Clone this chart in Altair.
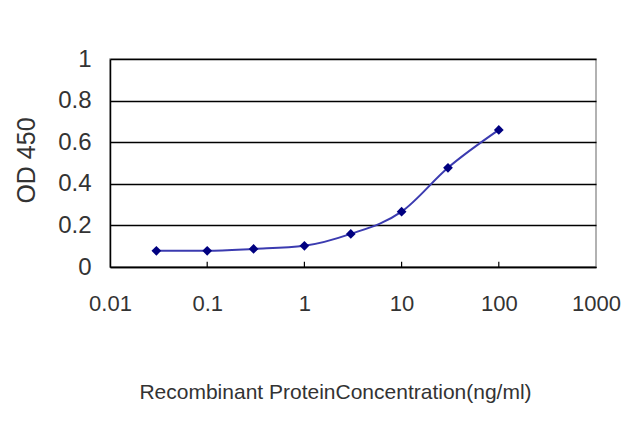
import altair as alt
import pandas as pd

conc = [0.03, 0.1, 0.3, 1, 3, 10, 30, 100]
od = [0.078, 0.078, 0.087, 0.102, 0.159, 0.266, 0.477, 0.659]
x_ticks = [0.01, 0.1, 1, 10, 100, 1000]
y_ticks = [0, 0.2, 0.4, 0.6, 0.8, 1]

df = pd.DataFrame({"conc": conc, "od": od})
ticks_df = pd.DataFrame({"t": x_ticks[1:-1], "y0": [0] * 4, "y1": [0.025] * 4})

FONT = "Liberation Sans"

xs = alt.Scale(type="log", domain=[0.01, 1000], nice=False)
ys = alt.Scale(domain=[0, 1], nice=False)

xaxis = alt.Axis(values=x_ticks, format="~g", grid=False, ticks=False,
                 labelFlush=False, labelOverlap=False, labelBound=False,
                 labelPadding=26, labelFontSize=22, labelFont=FONT, labelColor="#333",
                 domainColor="#000", domainWidth=1.5,
                 title="Recombinant ProteinConcentration(ng/ml)",
                 titleFont=FONT, titleFontSize=21, titleFontWeight="normal", titleColor="#333",
                 titleX=225, titleY=125, titleBaseline="middle", titleAlign="center")
yaxis = alt.Axis(values=y_ticks, format="~g", grid=True, gridColor="#000", gridWidth=1.5,
                 ticks=False, labelPadding=19, labelFontSize=24, labelFont=FONT,
                 labelFlush=False, labelOverlap=False,
                 labelColor="#333", domainColor="#000", domainWidth=1.5,
                 title="OD 450", titleFont=FONT, titleFontSize=25,
                 titleFontWeight="normal", titleColor="#333",
                 titleX=-84, titleY=101, titleAngle=-90, titleBaseline="middle",
                 titleAlign="center")

line = alt.Chart(df).mark_line(color="#3b3bb0", strokeWidth=2, interpolate="monotone").encode(
    x=alt.X("conc:Q", scale=xs, axis=xaxis),
    y=alt.Y("od:Q", scale=ys, axis=yaxis),
)
pts = alt.Chart(df).mark_point(shape="diamond", filled=True, color="#000080", size=95, opacity=1).encode(
    x=alt.X("conc:Q", scale=xs),
    y=alt.Y("od:Q", scale=ys),
)
tk = alt.Chart(ticks_df).mark_rule(color="#000", strokeWidth=1.2).encode(
    x=alt.X("t:Q", scale=xs),
    y=alt.Y("y0:Q", scale=ys),
    y2="y1:Q",
)

chart = alt.layer(line, tk, pts).properties(
    width=486, height=208,
    autosize=alt.AutoSizeParams(type="none"),
    padding={"left": 102, "top": 51, "right": 36, "bottom": 152},
    background="white",
).configure_view(stroke="#999", strokeWidth=1.5)

chart.save("out.html", embed_options={"renderer": "svg", "actions": False})
